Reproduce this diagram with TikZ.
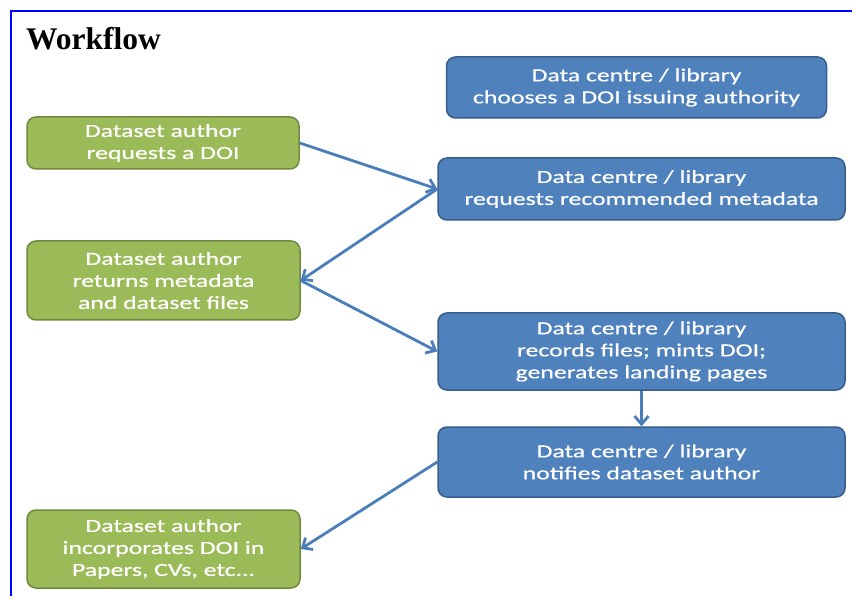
\documentclass[tikz,border=0pt]{standalone}
\usepackage{fontspec}
\usetikzlibrary{arrows.meta}
\setmainfont{Liberation Serif}
\newfontfamily\boxfont[FakeStretch=1.39,FakeBold=0.6]{Carlito}
\definecolor{gfill}{HTML}{9BBB59}
\definecolor{gline}{HTML}{71893F}
\definecolor{bfill}{HTML}{4F81BD}
\definecolor{bline}{HTML}{385D8A}
\definecolor{arr}{HTML}{4A7EBB}
\tikzset{
  gbox/.style={draw=gline, fill=gfill, line width=1.5pt, rounded corners=9pt,
    text=white, align=center, inner sep=0pt,
    font=\boxfont\fontsize{18.5}{22}\selectfont},
  bbox/.style={draw=bline, fill=bfill, line width=1.5pt, rounded corners=9pt,
    text=white, align=center, inner sep=0pt,
    font=\boxfont\fontsize{18.5}{22}\selectfont},
  flow/.style={draw=arr, line width=2.8pt, -{Straight Barb[length=8pt,width=14pt,line width=2.8pt]}},
  frame/.style={draw=blue, line width=2pt}
}
\begin{document}
\begin{tikzpicture}[x=1pt,y=-1pt]
\useasboundingbox (0,0) rectangle (852,596);
\coordinate (fa) at (11,596);
\coordinate (fb) at (11,11);
\coordinate (fc) at (852,11);
\draw[frame] (fa) -- (fb) -- (fc);
\node[anchor=base west, font=\fontsize{31.5}{36}\selectfont\bfseries] (title) at (22.5,50) {Workflow};

\node[gbox, minimum width=272pt, minimum height=52pt] (g1) at (163,143) {Dataset author\\requests a DOI};
\node[gbox, minimum width=273pt, minimum height=79pt] (g2) at (163.5,280.5) {Dataset author\\returns metadata\\and dataset files};
\node[gbox, minimum width=273pt, minimum height=78pt] (g3) at (163.5,549) {Dataset author\\incorporates DOI in\\Papers, CVs, etc...};

\node[bbox, minimum width=380pt, minimum height=61pt] (b1) at (636.5,87.5) {Data centre / library\\chooses a DOI issuing authority};
\node[bbox, minimum width=407pt, minimum height=62pt] (b2) at (641.5,189) {Data centre / library\\requests recommended metadata};
\node[bbox, minimum width=407pt, minimum height=77pt] (b3) at (641.5,351.5) {Data centre / library\\records files; mints DOI;\\generates landing pages};
\node[bbox, minimum width=407pt, minimum height=70pt] (b4) at (641.5,462) {Data centre / library\\notifies dataset author};

\draw[flow] (g1.east) -- (b2.west);
\draw[flow] (b2.west) -- (g2.east);
\draw[flow] (g2.east) -- (b3.west);
\draw[flow] (b3.south) -- (b4.north);
\draw[flow] (b4.west) -- (g3.east);
\end{tikzpicture}
\end{document}
